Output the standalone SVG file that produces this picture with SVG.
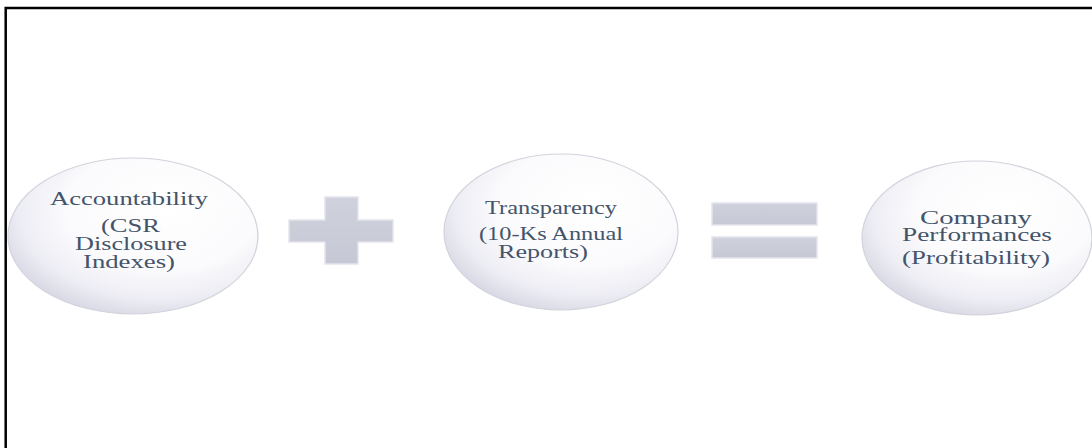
<svg xmlns="http://www.w3.org/2000/svg" width="1092" height="448" viewBox="0 0 1092 448">
  <defs>
    <!-- soft pearl shading for the round terms -->
    <radialGradient id="pearl" cx="0.6" cy="0.36" r="0.7" fx="0.64" fy="0.3">
      <stop offset="0" stop-color="#ffffff"/>
      <stop offset="0.55" stop-color="#fbfbfd"/>
      <stop offset="0.8" stop-color="#ededf4"/>
      <stop offset="1" stop-color="#d4d4e2"/>
    </radialGradient>
    <linearGradient id="bar" x1="0" y1="0" x2="0" y2="1">
      <stop offset="0" stop-color="#cfd1dc"/>
      <stop offset="1" stop-color="#c6c8d5"/>
    </linearGradient>
  </defs>
  <style>
    .ball { fill: url(#pearl); stroke: #d2d3dc; stroke-width: 1.2; }
    .op { fill: url(#bar); stroke: #e3e4ec; stroke-width: 1.5; }
    .lbl { font-family: "Liberation Serif", "Times New Roman", serif; fill: #44546a; text-anchor: middle; }
    .l { font-size: 19px; }
    .m { font-size: 18.5px; }
    .r { font-size: 18.5px; }
  </style>

  <rect width="1092" height="448" fill="#ffffff"/>
  <!-- frame: top and left edges only -->
  <path d="M5.7 448 V8 H1092" fill="none" stroke="#000000" stroke-width="2.5"/>

  <g id="accountability">
    <ellipse class="ball" cx="133" cy="236" rx="125" ry="78"/>
    <text class="lbl l" x="129" y="205" textLength="158" lengthAdjust="spacingAndGlyphs">Accountability</text>
    <text class="lbl l" x="130.5" y="231.5" textLength="59" lengthAdjust="spacingAndGlyphs">(CSR</text>
    <text class="lbl l" x="131" y="249.5" textLength="112" lengthAdjust="spacingAndGlyphs">Disclosure</text>
    <text class="lbl l" x="129" y="268" textLength="92" lengthAdjust="spacingAndGlyphs">Indexes)</text>
  </g>

  <g id="plus">
    <path class="op" d="M325 197 H358 V220 H393 V242 H358 V264 H325 V242 H289 V220 H325 Z"/>
  </g>

  <g id="transparency">
    <ellipse class="ball" cx="561" cy="232" rx="117" ry="78"/>
    <text class="lbl m" x="551" y="214" textLength="132" lengthAdjust="spacingAndGlyphs">Transparency</text>
    <text class="lbl m" x="551" y="240" textLength="144" lengthAdjust="spacingAndGlyphs">(10-Ks Annual</text>
    <text class="lbl m" x="543" y="257.5" textLength="90" lengthAdjust="spacingAndGlyphs">Reports)</text>
  </g>

  <g id="equals">
    <rect class="op" x="712" y="203" width="105" height="22"/>
    <rect class="op" x="712" y="237" width="105" height="21"/>
  </g>

  <g id="performance">
    <ellipse class="ball" cx="977" cy="238" rx="115" ry="77"/>
    <text class="lbl r" x="976" y="223.5" textLength="112" lengthAdjust="spacingAndGlyphs">Company</text>
    <text class="lbl r" x="977" y="240.5" textLength="150" lengthAdjust="spacingAndGlyphs">Performances</text>
    <text class="lbl r" x="976" y="264" textLength="148" lengthAdjust="spacingAndGlyphs">(Profitability)</text>
  </g>
</svg>
